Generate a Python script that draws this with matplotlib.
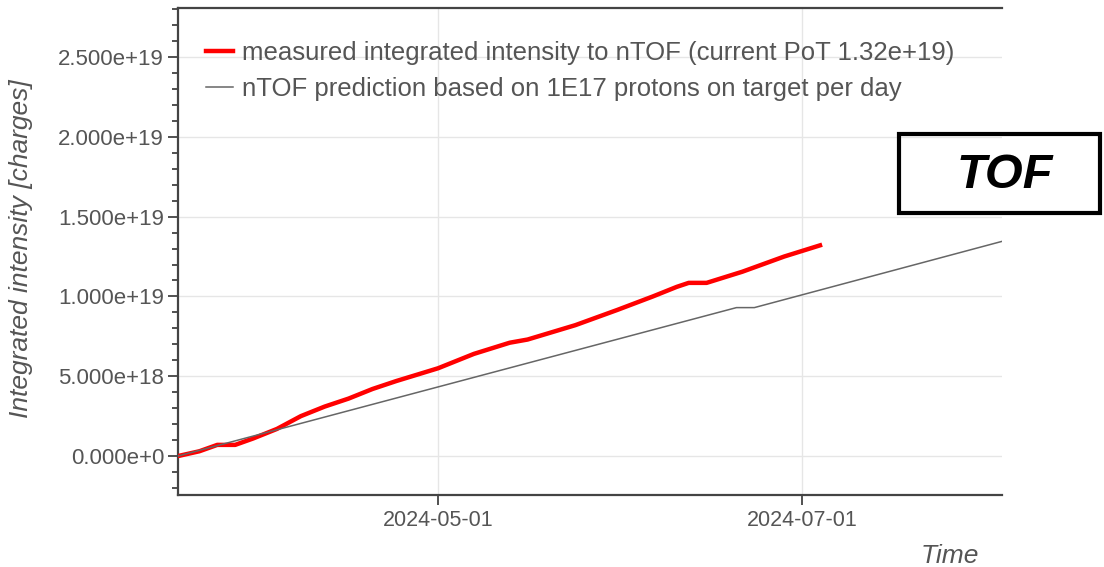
import numpy as np
import pandas as pd
import matplotlib.pyplot as plt
import matplotlib.dates as mdates
from matplotlib.ticker import MultipleLocator, FuncFormatter
from matplotlib.patches import Rectangle

plt.rcParams['font.family'] = ['Liberation Sans', 'DejaVu Sans']

# measured integrated intensity
measured_dates = ["2024-03-18 10:00", "2024-03-22 00:00", "2024-03-25 00:00", "2024-03-28 00:00",
                  "2024-03-31 00:00", "2024-04-04 00:00", "2024-04-08 00:00", "2024-04-12 00:00",
                  "2024-04-16 00:00", "2024-04-20 00:00", "2024-04-24 00:00", "2024-05-01 00:00",
                  "2024-05-07 00:00", "2024-05-13 00:00", "2024-05-16 00:00", "2024-05-24 00:00",
                  "2024-05-31 00:00", "2024-06-06 00:00", "2024-06-10 00:00", "2024-06-12 00:00",
                  "2024-06-15 00:00", "2024-06-21 00:00", "2024-06-28 00:00", "2024-07-04 00:00"]
measured_vals = [0.0, 0.03e19, 0.07e19, 0.07e19,
                 0.11e19, 0.17e19, 0.25e19, 0.31e19,
                 0.36e19, 0.42e19, 0.47e19, 0.55e19,
                 0.64e19, 0.71e19, 0.73e19, 0.82e19,
                 0.915e19, 1.00e19, 1.06e19, 1.085e19,
                 1.085e19, 1.155e19, 1.25e19, 1.32e19]

# prediction, 1E17 per day
pred_dates = ["2024-03-18 10:00", "2024-06-20 00:00", "2024-06-23 00:00", "2024-08-04 00:00"]
pred_vals = [0.0, 0.93e19, 0.93e19, 1.35e19]

measured_label = "measured integrated intensity to nTOF (current PoT 1.32e+19)"
pred_label = "nTOF prediction based on 1E17 protons on target per day"

txt_col = "#555555"

fig = plt.figure(figsize=(11.04, 5.67), dpi=100)
ax = fig.add_axes([178/1104, 1 - 495/567, (1002 - 178)/1104, (495 - 8)/567])

ax.plot(pd.to_datetime(measured_dates), measured_vals, color="red", lw=3.2, label=measured_label,
        zorder=3, solid_joinstyle="round")
ax.plot(pd.to_datetime(pred_dates), pred_vals, color="#666666", lw=1.1, label=pred_label, zorder=4)

ax.set_xlim(pd.Timestamp("2024-03-18 10:00"), pd.Timestamp("2024-08-03 12:00"))
ax.set_ylim(-0.244e19, 2.807e19)

ax.xaxis.set_major_locator(mdates.MonthLocator(bymonth=[5, 7]))
ax.xaxis.set_major_formatter(mdates.DateFormatter("%Y-%m-%d"))
ax.yaxis.set_major_locator(MultipleLocator(0.5e19))
ax.yaxis.set_minor_locator(MultipleLocator(0.1e19))


def sci(v, pos):
    if v == 0:
        return "0.000e+0"
    e = int(np.floor(np.log10(abs(v))))
    return "%.3fe+%d" % (v / 10**e, e)


ax.yaxis.set_major_formatter(FuncFormatter(sci))

ax.grid(True, color="#e6e6e6", lw=1)
ax.set_axisbelow(True)

for s in ["left", "bottom", "top"]:
    ax.spines[s].set_color("#444444")
    ax.spines[s].set_linewidth(1.6)
ax.spines["right"].set_visible(False)

ax.tick_params(axis="y", which="major", length=7, width=1.2, color="#333333",
               labelsize=16, labelcolor=txt_col, pad=3)
ax.tick_params(axis="y", which="minor", length=4, width=1.2, color="#333333")
ax.tick_params(axis="x", which="major", length=7, width=1.2, color="#333333",
               labelsize=15.5, labelcolor=txt_col, pad=4)

ax.set_ylabel("Integrated intensity [charges]", fontsize=19, style="italic", color=txt_col)
ax.yaxis.set_label_coords(-0.176, 0.505)
ax.set_xlabel("Time", fontsize=19, style="italic", color=txt_col, ha="right")
ax.xaxis.set_label_coords(0.972, -0.1)

ax.legend(loc="upper left", bbox_to_anchor=(0.034, 0.933), frameon=False,
          fontsize=18.5, labelcolor=txt_col, handlelength=1.05, handletextpad=0.35,
          borderaxespad=0, borderpad=0, labelspacing=0.5)

# TOF box outside the axes
fig.patches.append(Rectangle((899/1104, 1 - 213/567), 201/1104, 79/567,
                             transform=fig.transFigure, fill=False, lw=3, ec="black"))
fig.text(1005/1104, 1 - 175/567, "TOF", fontsize=35, weight="bold", style="italic",
         ha="center", va="center", color="black")

fig.savefig("out.png", dpi=100)
